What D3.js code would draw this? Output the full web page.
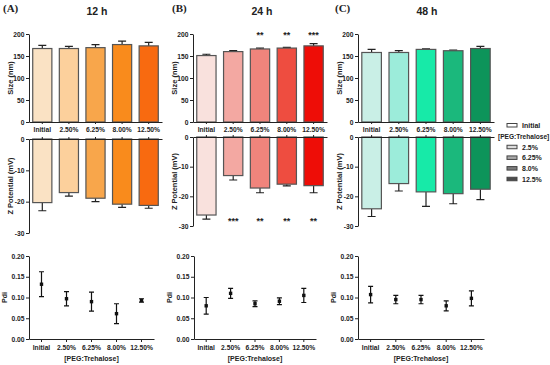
<!DOCTYPE html>
<html>
<head>
<meta charset="utf-8">
<script src="https://cdn.jsdelivr.net/npm/d3@7"></script>
<style>
  body { margin: 0; background: #fff; }
  svg { display: block; }
  .axis text { font-family: "Liberation Sans", Arial, sans-serif; font-weight: bold; font-size: 6.7px; fill: #222; }
  .axis path, .axis line { stroke: #222; stroke-width: 1; }
  .lbl { font-family: "Liberation Sans", Arial, sans-serif; font-weight: bold; fill: #222; }
</style>
</head>
<body>
<div id="chart"></div>
<script>

// categories and legend
var categories = ["Initial", "2.50%", "6.25%", "8.00%", "12.50%"];
var legendLabels = ["2.5%", "6.25%", "8.0%", "12.5%"];
var times = ["12 h", "24 h", "48 h"];
var panelTags = ["(A)", "(B)", "(C)"];

// tick values
var sizeTicks = [0, 50, 100, 150, 200];
var zetaTicks = [0, -10, -20, -30];
var pdiTicks = [0, 0.05, 0.10, 0.15, 0.20];

// size (nm), mean and sd
var size12 = [167, 167, 169, 176, 173];
var sizeErr12 = [7, 5, 7, 8, 8];
var size24 = [151, 160, 166, 168, 173];
var sizeErr24 = [3, 2, 2, 1.5, 5];
var size48 = [158, 158, 165, 162, 167];
var sizeErr48 = [7, 4, 1.5, 1.5, 5];

// zeta potential (mV)
var zeta12 = [-20.3, -17.1, -18.9, -20.8, -21.2];
var zetaErr12 = [2.6, 1.1, 1.1, 1.0, 0.9];
var zeta24 = [-26.3, -13.0, -17.2, -15.9, -16.4];
var zetaErr24 = [1.4, 1.5, 1.6, 0.6, 2.4];
var zeta48 = [-24.2, -15.7, -18.5, -19.1, -17.6];
var zetaErr48 = [2.6, 2.5, 4.9, 3.4, 3.5];

// polydispersity index
var pdi12 = [0.132, 0.097, 0.090, 0.061, 0.093];
var pdiErr12 = [0.030, 0.017, 0.023, 0.024, 0.004];
var pdi24 = [0.080, 0.110, 0.085, 0.091, 0.105];
var pdiErr24 = [0.020, 0.012, 0.007, 0.008, 0.017];
var pdi48 = [0.107, 0.095, 0.095, 0.080, 0.098];
var pdiErr48 = [0.020, 0.010, 0.010, 0.012, 0.018];

// significance marks (24 h only)
var starsSize24 = ["", "", "**", "**", "***"];
var starsZeta24 = ["", "***", "**", "**", "**"];

// colours
var colors12 = ["#fae2c4", "#fcd09c", "#f8a64b", "#f98b1c", "#f86a10"];
var colors24 = ["#f9e1dd", "#f3a8a2", "#f0847c", "#ee4d40", "#ee0d07"];
var colors48 = ["#c9efe6", "#9cecda", "#17eaa8", "#1bb87c", "#0d945a"];
var legendColors = ["#ffffff", "#dcdcdc", "#a8a8a8", "#7c7c7c", "#4c4c4c"];

var W = 550, H = 365;

var panels = [
  { size: size12, sizeErr: sizeErr12, zeta: zeta12, zetaErr: zetaErr12, pdi: pdi12, pdiErr: pdiErr12,
    colors: colors12, bx: [29, 162], px: [29, 154], zy: [139, 233], titleX: 97, tagX: 3, stars: null },
  { size: size24, sizeErr: sizeErr24, zeta: zeta24, zetaErr: zetaErr24, pdi: pdi24, pdiErr: pdiErr24,
    colors: colors24, bx: [193, 327], px: [194, 316], zy: [137, 226], titleX: 262, tagX: 172,
    stars: [starsSize24, starsZeta24] },
  { size: size48, sizeErr: sizeErr48, zeta: zeta48, zetaErr: zetaErr48, pdi: pdi48, pdiErr: pdiErr48,
    colors: colors48, bx: [358, 494], px: [358, 484], zy: [137, 226], titleX: 427, tagX: 335, stars: null }
];

var svg = d3.select("#chart").append("svg")
  .attr("width", W)
  .attr("height", H);

panels.forEach(function (p, i) {

  var x = d3.scaleBand().domain(categories).range(p.bx).paddingInner(0.28).paddingOuter(0.14);
  var xp = d3.scaleBand().domain(categories).range(p.px);
  var ySize = d3.scaleLinear().domain([0, 200]).range([122, 34]);
  var yZeta = d3.scaleLinear().domain([0, -30]).range(p.zy);
  var yPdi = d3.scaleLinear().domain([0, 0.2]).range([339, 256]);
  var ax = p.bx[0];

  // titles
  svg.append("text").attr("class", "lbl")
    .attr("x", p.titleX).attr("y", 15).attr("text-anchor", "middle")
    .style("font-size", "10.5px").text(times[i]);
  svg.append("text")
    .attr("x", p.tagX).attr("y", 12)
    .style("font-family", "'Liberation Serif', 'Times New Roman', serif")
    .style("font-weight", "bold").style("font-size", "11px").style("fill", "#222")
    .text(panelTags[i]);

  var g = svg.append("g");

  // ---- size bars ----
  var sizeData = categories.map(function (c, k) { return { c: c, v: p.size[k], e: p.sizeErr[k], col: p.colors[k] }; });

  g.selectAll(".errS").data(sizeData).enter().append("path")
    .attr("d", function (d) {
      var cx = x(d.c) + x.bandwidth() / 2, y1 = ySize(d.v), y2 = ySize(d.v + d.e);
      return "M" + cx + "," + y1 + "V" + y2 + "M" + (cx - 4) + "," + y2 + "H" + (cx + 4);
    })
    .attr("stroke", "#222").attr("stroke-width", 1.2).attr("fill", "none");

  g.selectAll(".barS").data(sizeData).enter().append("rect")
    .attr("x", function (d) { return x(d.c); })
    .attr("y", function (d) { return ySize(d.v); })
    .attr("width", x.bandwidth())
    .attr("height", function (d) { return ySize(0) - ySize(d.v); })
    .attr("fill", function (d) { return d.col; })
    .attr("stroke", "#555").attr("stroke-width", 1.2);

  g.append("g").attr("class", "axis")
    .attr("transform", "translate(" + ax + ",0)")
    .call(d3.axisLeft(ySize).tickValues(sizeTicks).tickSize(3).tickPadding(1.5).tickSizeOuter(0));

  g.append("g").attr("class", "axis")
    .attr("transform", "translate(0,122)")
    .call(d3.axisBottom(x).tickSize(2).tickPadding(3).tickSizeOuter(0));

  svg.append("text").attr("class", "lbl")
    .attr("transform", "translate(" + (ax - 16) + "," + ySize(100) + ") rotate(-90)")
    .attr("text-anchor", "middle").style("font-size", "7.5px").text("Size (nm)");

  // ---- zeta bars ----
  var zetaData = categories.map(function (c, k) { return { c: c, v: p.zeta[k], e: p.zetaErr[k], col: p.colors[k] }; });

  g.selectAll(".errZ").data(zetaData).enter().append("path")
    .attr("d", function (d) {
      var cx = x(d.c) + x.bandwidth() / 2, y1 = yZeta(d.v), y2 = yZeta(d.v - d.e);
      return "M" + cx + "," + y1 + "V" + y2 + "M" + (cx - 4) + "," + y2 + "H" + (cx + 4);
    })
    .attr("stroke", "#222").attr("stroke-width", 1.2).attr("fill", "none");

  g.selectAll(".barZ").data(zetaData).enter().append("rect")
    .attr("x", function (d) { return x(d.c); })
    .attr("y", yZeta(0))
    .attr("width", x.bandwidth())
    .attr("height", function (d) { return yZeta(d.v) - yZeta(0); })
    .attr("fill", function (d) { return d.col; })
    .attr("stroke", "#555").attr("stroke-width", 1.2);

  g.append("g").attr("class", "axis")
    .attr("transform", "translate(" + ax + ",0)")
    .call(d3.axisLeft(yZeta).tickValues(zetaTicks).tickSize(3).tickPadding(1.5).tickSizeOuter(0)
      .tickFormat(function (d) { return String(d); }));

  g.append("g").attr("class", "axis")
    .attr("transform", "translate(0," + yZeta(0) + ")")
    .call(d3.axisTop(x).tickSize(2).tickSizeOuter(0).tickFormat(""));

  svg.append("text").attr("class", "lbl")
    .attr("transform", "translate(" + (ax - 16) + "," + yZeta(-15) + ") rotate(-90)")
    .attr("text-anchor", "middle").style("font-size", "7.5px").text("Z Potential (mV)");

  // ---- significance ----
  if (p.stars) {
    g.selectAll(".starS").data(p.stars[0]).enter().append("text").attr("class", "lbl")
      .attr("x", function (d, k) { return x(categories[k]) + x.bandwidth() / 2; })
      .attr("y", 38).attr("text-anchor", "middle").style("font-size", "9px")
      .text(function (d) { return d; });
    g.selectAll(".starZ").data(p.stars[1]).enter().append("text").attr("class", "lbl")
      .attr("x", function (d, k) { return x(categories[k]) + x.bandwidth() / 2; })
      .attr("y", 224).attr("text-anchor", "middle").style("font-size", "9px")
      .text(function (d) { return d; });
  }

  // ---- pdi ----
  var pdiData = categories.map(function (c, k) { return { c: c, v: p.pdi[k], e: p.pdiErr[k] }; });
  var pax = p.px[0];

  g.append("g").attr("class", "axis")
    .attr("transform", "translate(" + pax + ",0)")
    .call(d3.axisLeft(yPdi).tickValues(pdiTicks).tickSize(3).tickPadding(1.5).tickSizeOuter(0)
      .tickFormat(d3.format(".2f")));

  g.append("g").attr("class", "axis")
    .attr("transform", "translate(0,339)")
    .call(d3.axisBottom(xp).tickSize(3).tickPadding(3).tickSizeOuter(0));

  g.selectAll(".errP").data(pdiData).enter().append("path")
    .attr("d", function (d) {
      var cx = xp(d.c) + xp.bandwidth() / 2, y1 = yPdi(d.v - d.e), y2 = yPdi(d.v + d.e);
      return "M" + cx + "," + y1 + "V" + y2 +
        "M" + (cx - 2.5) + "," + y1 + "H" + (cx + 2.5) +
        "M" + (cx - 2.5) + "," + y2 + "H" + (cx + 2.5);
    })
    .attr("stroke", "#111").attr("stroke-width", 1.2).attr("fill", "none");

  g.selectAll(".dotP").data(pdiData).enter().append("rect")
    .attr("x", function (d) { return xp(d.c) + xp.bandwidth() / 2 - 1.7; })
    .attr("y", function (d) { return yPdi(d.v) - 1.7; })
    .attr("width", 3.4).attr("height", 3.4)
    .attr("fill", "#111");

  svg.append("text").attr("class", "lbl")
    .attr("transform", "translate(" + (pax - 22) + "," + yPdi(0.1) + ") rotate(-90)")
    .attr("text-anchor", "middle").style("font-size", "7px").text("Pdi");

  svg.append("text").attr("class", "lbl")
    .attr("x", (p.px[0] + p.px[1]) / 2).attr("y", 361)
    .attr("text-anchor", "middle").style("font-size", "7px").text("[PEG:Trehalose]");
});

// ---- legend ----
var legend = svg.append("g").attr("transform", "translate(507,0)");

legend.append("rect").attr("x", 0).attr("y", 123.5).attr("width", 10).attr("height", 3.5)
  .attr("fill", legendColors[0]).attr("stroke", "#444").attr("stroke-width", 1);
legend.append("text").attr("class", "lbl").attr("x", 15).attr("y", 127.5)
  .style("font-size", "7px").text(categories[0]);
legend.append("text").attr("class", "lbl").attr("x", -9).attr("y", 138.5)
  .style("font-size", "6.6px").text("[PEG:Trehalose]");

var ly = d3.scalePoint().domain(legendLabels).range([147, 179]);

legend.selectAll(".lg").data(legendLabels).enter().append("rect")
  .attr("x", 0).attr("y", function (d) { return ly(d) - 1.75; })
  .attr("width", 10).attr("height", 3.5)
  .attr("fill", function (d, k) { return legendColors[k + 1]; })
  .attr("stroke", "#444").attr("stroke-width", 1);

legend.selectAll(".lt").data(legendLabels).enter().append("text").attr("class", "lbl")
  .attr("x", 15).attr("y", function (d) { return ly(d) + 2.5; })
  .style("font-size", "7px").text(function (d) { return d; });

</script>
</body>
</html>
